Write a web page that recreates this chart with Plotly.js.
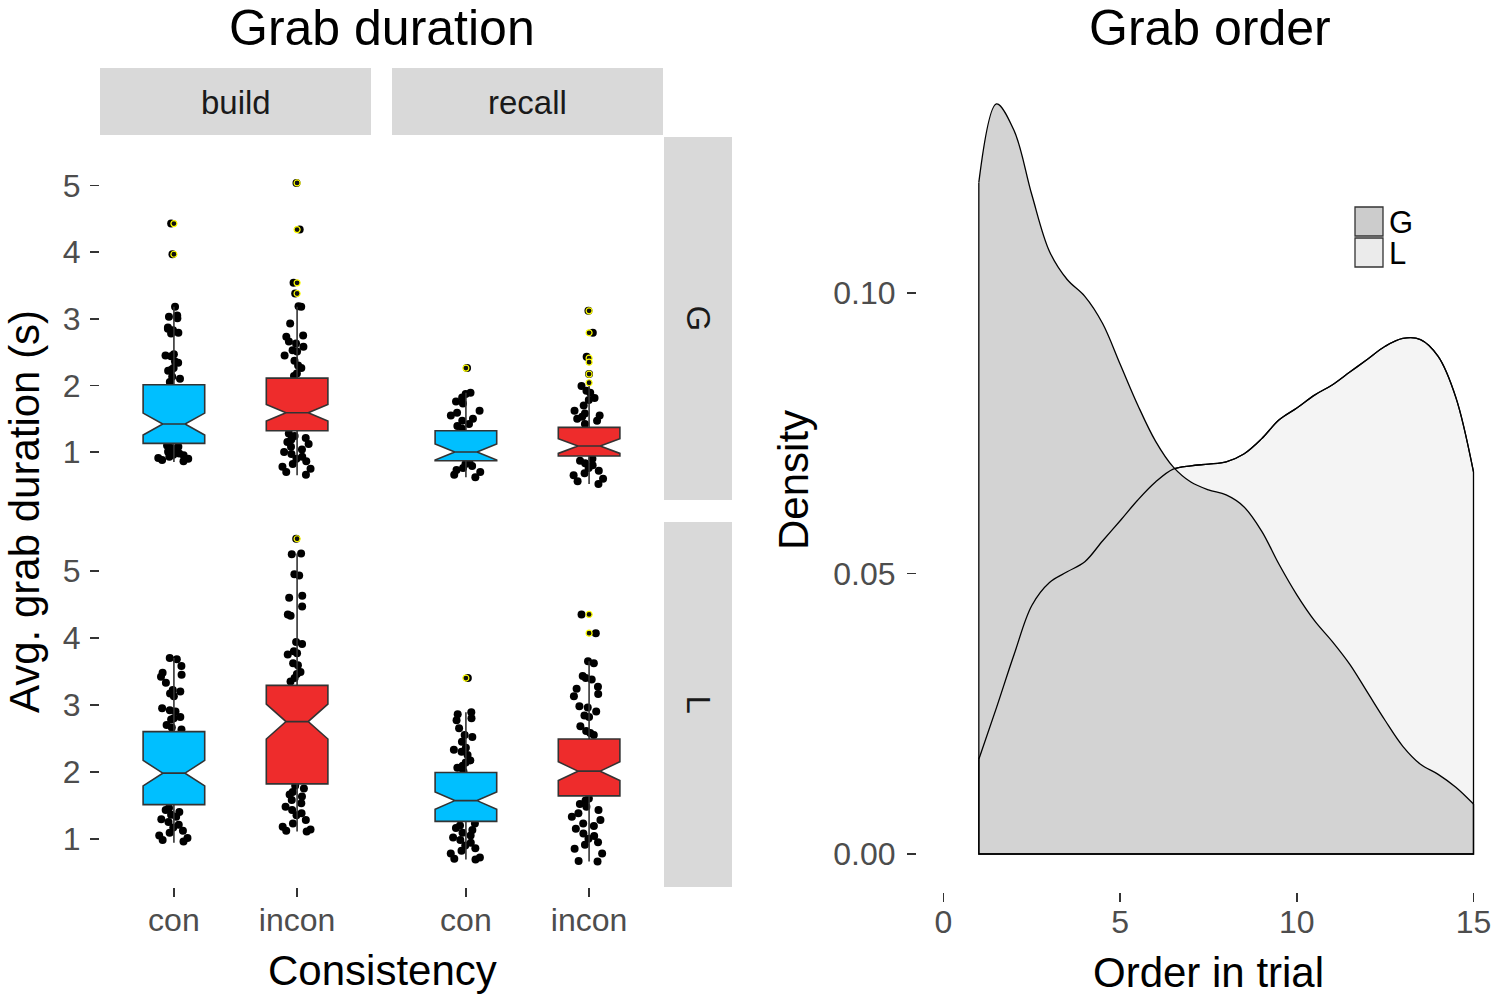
<!DOCTYPE html>
<html><head><meta charset="utf-8">
<script src="https://cdn.plot.ly/plotly-3.0.1.min.js"></script>
<style>html,body{margin:0;padding:0;background:#fff}#chart{width:1500px;height:1001px}</style>
</head><body><div id="chart"></div>
<script>
const W = 1500, H = 1001;

// ---------- Grab duration (boxplots) ----------
const consistency = ['con', 'incon'];
const tasks = ['build', 'recall'];
const grabTypes = ['G', 'L'];

// box order: build-G-con, build-G-incon, recall-G-con, recall-G-incon, build-L-con, build-L-incon, recall-L-con, recall-L-incon
const boxTask = ['build', 'build', 'recall', 'recall', 'build', 'build', 'recall', 'recall'];
const boxType = ['G', 'G', 'G', 'G', 'L', 'L', 'L', 'L'];
const boxCons = ['con', 'incon', 'con', 'incon', 'con', 'incon', 'con', 'incon'];
const boxQ1 = [1.13, 1.32, 0.87, 0.94, 1.51, 1.82, 1.26, 1.64];
const boxMedian = [1.42, 1.59, 1.00, 1.09, 1.98, 2.75, 1.57, 2.01];
const boxQ3 = [2.01, 2.11, 1.32, 1.37, 2.60, 3.29, 1.99, 2.49];
const boxLower = [0.85, 0.65, 0.62, 0.52, 0.94, 1.11, 0.69, 0.66];
const boxUpper = [3.18, 3.18, 1.89, 2.00, 3.70, 5.26, 2.89, 3.65];
const boxNotch = [0.165, 0.125, 0.12, 0.11, 0.19, 0.26, 0.13, 0.14];

const outliers_build_G_con = [4.43, 3.97];
const outliers_build_G_incon = [5.04, 4.34, 3.54, 3.38];
const outliers_recall_G_con = [2.26];
const outliers_recall_G_incon = [3.12, 2.79, 2.41, 2.35, 2.17, 2.04];
const outliers_build_L_con = [];
const outliers_build_L_incon = [5.48];
const outliers_recall_L_con = [3.40];
const outliers_recall_L_incon = [4.35, 4.07];

const pts_build_G_con = [4.43, 3.97, 3.18, 3.05, 3.03, 3.01, 2.87, 2.85, 2.83, 2.79, 2.78, 2.47, 2.45, 2.44, 2.36, 2.34, 2.26, 2.24, 2.22, 2.13, 2.10, 2.05, 1.10, 1.08, 1.06, 1.04, 1.02, 1.00, 0.98, 0.96, 0.95, 0.93, 0.91, 0.90, 0.88, 0.86];
const pts_build_G_incon = [5.04, 4.34, 3.54, 3.38, 3.19, 3.18, 2.93, 2.75, 2.73, 2.66, 2.63, 2.58, 2.53, 2.51, 2.45, 2.37, 2.30, 2.26, 2.18, 2.14, 1.28, 1.24, 1.21, 1.19, 1.15, 1.12, 1.08, 1.04, 1.00, 0.97, 0.93, 0.90, 0.86, 0.82, 0.78, 0.75, 0.70, 0.66];
const pts_recall_G_con = [2.26, 1.89, 1.87, 1.82, 1.76, 1.73, 1.62, 1.59, 1.55, 1.50, 1.47, 1.42, 1.39, 1.35, 0.85, 0.82, 0.79, 0.76, 0.73, 0.70, 0.66, 0.62];
const pts_recall_G_incon = [3.12, 2.79, 2.43, 2.17, 1.99, 1.92, 1.89, 1.81, 1.78, 1.70, 1.62, 1.58, 1.55, 1.53, 1.50, 1.47, 1.42, 0.90, 0.87, 0.83, 0.80, 0.76, 0.72, 0.68, 0.65, 0.60, 0.56, 0.52];
const pts_build_L_con = [3.70, 3.68, 3.58, 3.48, 3.45, 3.42, 3.33, 3.22, 3.20, 3.17, 3.13, 2.95, 2.92, 2.90, 2.82, 2.80, 2.78, 2.70, 2.66, 2.63, 1.46, 1.43, 1.40, 1.36, 1.33, 1.29, 1.25, 1.21, 1.17, 1.12, 1.09, 1.05, 1.01, 0.98, 0.96];
const pts_build_L_incon = [5.48, 5.26, 5.25, 4.95, 4.93, 4.63, 4.60, 4.47, 4.35, 4.33, 3.94, 3.91, 3.80, 3.77, 3.75, 3.62, 3.59, 3.49, 3.46, 3.40, 3.35, 1.79, 1.75, 1.70, 1.66, 1.63, 1.58, 1.53, 1.48, 1.43, 1.38, 1.35, 1.28, 1.23, 1.18, 1.14, 1.12, 1.11];
const pts_recall_L_con = [3.40, 2.89, 2.86, 2.80, 2.77, 2.65, 2.55, 2.52, 2.45, 2.36, 2.33, 2.30, 2.25, 2.17, 2.14, 2.09, 2.06, 2.01, 1.23, 1.20, 1.16, 1.13, 1.09, 1.05, 1.02, 0.98, 0.94, 0.90, 0.86, 0.82, 0.78, 0.72, 0.70, 0.69];
const pts_recall_L_incon = [4.35, 4.07, 3.65, 3.62, 3.43, 3.40, 3.38, 3.27, 3.24, 3.16, 3.13, 2.98, 2.96, 2.90, 2.84, 2.82, 2.68, 2.61, 2.58, 2.55, 1.60, 1.57, 1.52, 1.48, 1.43, 1.38, 1.33, 1.28, 1.23, 1.19, 1.15, 1.08, 1.04, 1.00, 0.95, 0.91, 0.85, 0.78, 0.67, 0.66];

const ptsByBox = [pts_build_G_con, pts_build_G_incon, pts_recall_G_con, pts_recall_G_incon,
                  pts_build_L_con, pts_build_L_incon, pts_recall_L_con, pts_recall_L_incon];
const outByBox = [outliers_build_G_con, outliers_build_G_incon, outliers_recall_G_con, outliers_recall_G_incon,
                  outliers_build_L_con, outliers_build_L_incon, outliers_recall_L_con, outliers_recall_L_incon];

// ---------- Grab order (density) ----------
const orderInTrial = [1, 1.5, 2, 2.5, 3, 3.5, 4, 4.5, 5, 5.5, 6, 6.5, 7, 7.5, 8, 8.5, 9, 9.5, 10, 10.5, 11, 11.5, 12, 12.5, 13, 13.5, 14, 14.5, 15];
const densityG = [0.1197, 0.1337, 0.1289, 0.1175, 0.1074, 0.1024, 0.0994, 0.0946, 0.0873, 0.0800, 0.0736, 0.0690, 0.0663, 0.0649, 0.0640, 0.0619, 0.0576, 0.0516, 0.0462, 0.0416, 0.0379, 0.0338, 0.0288, 0.0238, 0.0192, 0.0160, 0.0142, 0.0119, 0.0089];
const densityL = [0.0169, 0.0261, 0.0356, 0.0443, 0.0484, 0.0503, 0.0521, 0.0558, 0.0594, 0.0631, 0.0663, 0.0686, 0.0692, 0.0695, 0.0699, 0.0713, 0.0740, 0.0774, 0.0795, 0.0818, 0.0836, 0.0859, 0.0882, 0.0905, 0.0919, 0.0917, 0.0887, 0.0814, 0.0681];
const densityTicks = [0, 0.05, 0.10];
const densityTickText = ['0.00', '0.05', '0.10'];
const orderTicks = [0, 5, 10, 15];

// ---------- helpers ----------
const px = v => v / W;
const py = v => 1 - v / H;
const consColor = {con: '#00BFFF', incon: '#EE2C2C'};
const xaxisOf = {build: 'x', recall: 'x2'};
const yaxisOf = {G: 'y', L: 'y2'};

const traces = [];
for (let i = 0; i < boxCons.length; i++) {
  const xa = xaxisOf[boxTask[i]], ya = yaxisOf[boxType[i]];
  // jittered raw points (drawn under the box)
  traces.push({
    type: 'box', xaxis: xa, yaxis: ya,
    x: ptsByBox[i].map(() => boxCons[i]), y: ptsByBox[i],
    boxpoints: 'all', jitter: 0.6, pointpos: 0, width: 0.5,
    fillcolor: 'rgba(0,0,0,0)', line: {width: 0, color: 'rgba(0,0,0,0)'},
    marker: {color: '#000000', size: 8, line: {width: 0}},
    hoverinfo: 'skip', showlegend: false
  });
  // notched box
  traces.push({
    type: 'box', xaxis: xa, yaxis: ya,
    x: [boxCons[i]], q1: [boxQ1[i]], median: [boxMedian[i]], q3: [boxQ3[i]],
    lowerfence: [boxLower[i]], upperfence: [boxUpper[i]], notchspan: [boxNotch[i]],
    notched: true, notchwidth: 0.32, width: 0.5, whiskerwidth: 0, boxpoints: false,
    fillcolor: consColor[boxCons[i]], line: {color: '#333333', width: 1.6},
    hoverinfo: 'skip', showlegend: false
  });
  // outliers
  if (outByBox[i].length) {
    traces.push({
      type: 'scatter', mode: 'markers', xaxis: xa, yaxis: ya,
      x: outByBox[i].map(() => boxCons[i]), y: outByBox[i],
      marker: {color: '#111111', size: 6, line: {color: '#FFFF00', width: 1.2}},
      hoverinfo: 'skip', showlegend: false
    });
  }
}

// density areas (smooth curves filled to zero)
const lastIdx = orderInTrial.length - 1;
traces.push({type: 'scatter', mode: 'lines', xaxis: 'x3', yaxis: 'y3', x: orderInTrial, y: densityL,
  fill: 'tozeroy', fillcolor: '#F4F4F4', line: {color: '#000000', width: 1.3, shape: 'spline', smoothing: 1},
  name: 'L', showlegend: false, hoverinfo: 'skip'});
traces.push({type: 'scatter', mode: 'lines', xaxis: 'x3', yaxis: 'y3', x: orderInTrial, y: densityG,
  fill: 'tozeroy', fillcolor: '#D3D3D3', line: {color: '#000000', width: 1.3, shape: 'spline', smoothing: 1},
  name: 'G', showlegend: false, hoverinfo: 'skip'});
traces.push({type: 'scatter', mode: 'lines', xaxis: 'x3', yaxis: 'y3', x: orderInTrial, y: densityL,
  line: {color: '#000000', width: 1.3, shape: 'spline', smoothing: 1}, showlegend: false, hoverinfo: 'skip'});
// polygon edges (vertical sides + baseline) of each density area
[densityL, densityG].forEach(d => {
  traces.push({type: 'scatter', mode: 'lines', xaxis: 'x3', yaxis: 'y3',
    x: [orderInTrial[0], orderInTrial[0], orderInTrial[lastIdx], orderInTrial[lastIdx]],
    y: [d[0], 0, 0, d[lastIdx]],
    line: {color: '#000000', width: 1.3}, showlegend: false, hoverinfo: 'skip'});
});

const tickFont = {family: 'Liberation Sans, Arial, sans-serif', size: 32, color: '#4D4D4D'};
const baseAxis = {showgrid: false, zeroline: false, showline: false, ticks: 'outside', ticklen: 9,
  tickwidth: 1.5, tickcolor: '#333333', tickfont: tickFont, fixedrange: true};

const catAxis = Object.assign({}, baseAxis, {type: 'category', categoryorder: 'array',
  categoryarray: consistency, range: [-0.6, 1.6], anchor: 'y2', ticklabelstandoff: -4});
const durAxis = Object.assign({}, baseAxis, {range: [0.28, 5.73], tickvals: [1, 2, 3, 4, 5], anchor: 'x', ticklabelstandoff: 3});

const textFont = (s, c) => ({family: 'Liberation Sans, Arial, sans-serif', size: s, color: c || '#000000'});
const ann = (x, y, text, size, color, angle) => ({xref: 'paper', yref: 'paper', x: px(x), y: py(y),
  text: text, showarrow: false, xanchor: 'center', yanchor: 'middle', font: textFont(size, color), textangle: angle || 0});

const layout = {
  width: W, height: H, margin: {l: 0, r: 0, t: 0, b: 0},
  paper_bgcolor: '#FFFFFF', plot_bgcolor: '#FFFFFF', hovermode: false, showlegend: false,
  boxmode: 'overlay',
  xaxis: Object.assign({}, catAxis, {domain: [px(100), px(371)]}),
  xaxis2: Object.assign({}, catAxis, {domain: [px(392), px(663)]}),
  yaxis: Object.assign({}, durAxis, {domain: [py(500), py(137)]}),
  yaxis2: Object.assign({}, durAxis, {domain: [py(887), py(522)]}),
  xaxis3: Object.assign({}, baseAxis, {domain: [px(917), 1], range: [-0.75, 15.75], tickvals: orderTicks, anchor: 'y3', ticklabelstandoff: -7}),
  yaxis3: Object.assign({}, baseAxis, {domain: [py(892), py(68)], range: [-0.00677, 0.1401], tickvals: densityTicks, ticktext: densityTickText, anchor: 'x3', ticklabelstandoff: 5}),
  shapes: [
    {type: 'rect', xref: 'paper', yref: 'paper', x0: px(100), x1: px(371), y0: py(135), y1: py(68), fillcolor: '#D9D9D9', line: {width: 0}},
    {type: 'rect', xref: 'paper', yref: 'paper', x0: px(392), x1: px(663), y0: py(135), y1: py(68), fillcolor: '#D9D9D9', line: {width: 0}},
    {type: 'rect', xref: 'paper', yref: 'paper', x0: px(664), x1: px(732), y0: py(500), y1: py(137), fillcolor: '#D9D9D9', line: {width: 0}},
    {type: 'rect', xref: 'paper', yref: 'paper', x0: px(664), x1: px(732), y0: py(887), y1: py(522), fillcolor: '#D9D9D9', line: {width: 0}},
    // legend keys
    {type: 'rect', xref: 'paper', yref: 'paper', x0: px(1355), x1: px(1383), y0: py(236), y1: py(207), fillcolor: '#CCCCCC', line: {color: '#333333', width: 1.3}},
    {type: 'rect', xref: 'paper', yref: 'paper', x0: px(1355), x1: px(1383), y0: py(267), y1: py(238), fillcolor: '#EBEBEB', line: {color: '#333333', width: 1.3}}
  ],
  annotations: [
    ann(382, 28, 'Grab duration', 50),
    ann(1210, 28, 'Grab order', 50),
    ann(235.5, 103, tasks[0], 33, '#1A1A1A'),
    ann(527.5, 103, tasks[1], 33, '#1A1A1A'),
    ann(698, 318.5, grabTypes[0], 33, '#1A1A1A', 90),
    ann(698, 704.5, grabTypes[1], 33, '#1A1A1A', 90),
    ann(382, 970, 'Consistency', 42),
    ann(1208, 972, 'Order in trial', 42),
    ann(24, 512, 'Avg. grab duration (s)', 42, '#000000', -90),
    ann(793, 480, 'Density', 42, '#000000', -90),
    {xref: 'paper', yref: 'paper', x: px(1387), y: py(222), text: 'G', showarrow: false, xanchor: 'left', yanchor: 'middle', font: textFont(31)},
    {xref: 'paper', yref: 'paper', x: px(1387), y: py(253), text: 'L', showarrow: false, xanchor: 'left', yanchor: 'middle', font: textFont(31)}
  ]
};

Plotly.newPlot('chart', traces, layout, {displayModeBar: false, staticPlot: true});
</script>
</body></html>
